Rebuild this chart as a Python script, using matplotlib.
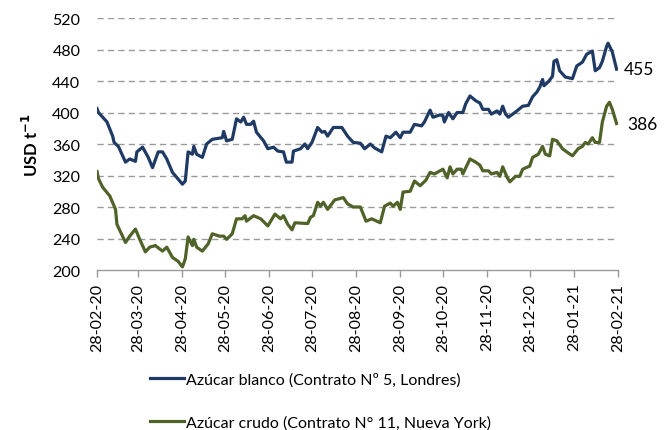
import numpy as np
import matplotlib
matplotlib.use("Agg")
import matplotlib.pyplot as plt
import datetime as dt

# ---- data (days since 28-02-2020, USD/t) ----
start_date = "2020-02-28"
tick_labels = ["28-02-20", "28-03-20", "28-04-20", "28-05-20", "28-06-20", "28-07-20",
               "28-08-20", "28-09-20", "28-10-20", "28-11-20", "28-12-20", "28-01-21", "28-02-21"]

white_days = [0, 1, 7, 11, 12, 15, 20, 23, 27, 28, 32, 36, 39, 43, 46, 49, 53, 60, 62, 64,
              67, 68, 70, 74, 77, 81, 88, 89, 91, 95, 98, 101, 103, 105, 108, 110, 112, 117,
              120, 124, 127, 131, 133, 137, 138, 143, 146, 148, 151, 155, 158, 160, 162, 166,
              172, 176, 180, 185, 188, 192, 195, 200, 203, 206, 210, 213, 215, 220, 223, 228,
              230, 234, 236, 241, 243, 244, 247, 250, 253, 257, 259, 262, 266, 269, 271, 275,
              277, 281, 283, 285, 287, 289, 292, 295, 299, 303, 306, 309, 311, 313, 314, 317,
              320, 321, 323, 325, 329, 334, 337, 341, 344, 348, 350, 353, 355, 358, 359, 362, 365]
white_vals = [405, 400, 388, 370, 362, 357, 337, 341, 338, 350, 356, 343, 330, 350, 350, 341,
              324, 309, 313, 350, 347, 357, 347, 343, 360, 366, 368, 376, 364, 366, 392, 388,
              394, 385, 385, 389, 375, 364, 354, 356, 351, 350, 337, 337, 351, 354, 360, 354,
              362, 381, 375, 376, 370, 381, 381, 370, 362, 361, 354, 360, 355, 350, 370, 368,
              375, 368, 375, 375, 385, 383, 388, 403, 394, 397, 396, 388, 400, 392, 400, 400,
              411, 421, 415, 412, 404, 404, 398, 402, 398, 408, 398, 394, 398, 402, 408, 409,
              420, 426, 432, 442, 434, 439, 446, 465, 467, 453, 445, 443, 459, 464, 474, 478,
              453, 457, 465, 484, 488, 477, 455]

raw_days = [0, 1, 4, 9, 13, 14, 20, 23, 27, 30, 34, 37, 41, 46, 49, 53, 57, 60, 62, 64, 67,
            68, 70, 74, 78, 81, 86, 89, 91, 95, 98, 102, 104, 105, 110, 115, 120, 125, 129,
            131, 134, 137, 139, 148, 150, 152, 155, 157, 159, 162, 167, 173, 176, 180, 185,
            189, 193, 199, 202, 206, 208, 211, 213, 215, 220, 223, 227, 231, 234, 237, 243,
            246, 248, 250, 253, 256, 257, 262, 266, 269, 271, 275, 277, 281, 283, 285, 288,
            290, 294, 297, 299, 304, 306, 310, 313, 315, 318, 320, 323, 327, 330, 334, 338,
            341, 343, 345, 348, 350, 353, 355, 358, 360, 362, 365]
raw_vals = [325, 316, 305, 294, 277, 258, 235, 243, 252, 239, 223, 229, 231, 224, 229, 216,
            211, 204, 214, 242, 231, 239, 229, 224, 233, 246, 243, 243, 239, 246, 265, 265,
            269, 262, 269, 265, 256, 271, 265, 269, 258, 251, 260, 259, 267, 269, 286, 281,
            286, 277, 289, 292, 284, 280, 280, 262, 265, 260, 281, 285, 281, 286, 277, 299,
            300, 313, 307, 314, 324, 322, 328, 317, 331, 322, 328, 328, 322, 341, 337, 333,
            326, 326, 322, 324, 319, 331, 318, 312, 319, 319, 328, 332, 343, 347, 357, 347,
            345, 366, 364, 354, 350, 345, 354, 357, 362, 360, 368, 362, 362, 388, 408, 413,
            404, 386]

white_label = "Azúcar blanco (Contrato Nº 5, Londres)"
raw_label = "Azúcar crudo (Contrato N° 11, Nueva York)"
y_ticks = [200, 240, 280, 320, 360, 400, 440, 480, 520]

# ---- plotting ----
plt.rcParams['font.family'] = ['Lato', 'DejaVu Sans']
BLUE = '#1f3a64'
GREEN = '#4f6228'

d0 = dt.datetime.strptime(start_date, "%Y-%m-%d")
wx = [d0 + dt.timedelta(days=d) for d in white_days]
rx = [d0 + dt.timedelta(days=d) for d in raw_days]
tick_dates = [dt.datetime.strptime(t, "%d-%m-%y") for t in tick_labels]

fig = plt.figure(figsize=(6.70, 4.31), dpi=100)
ax = fig.add_axes([0.1448, 0.3712, 0.7776, 0.5847])

ax.plot(wx, white_vals, color=BLUE, lw=2.3, label=white_label, solid_joinstyle='round')
ax.plot(rx, raw_vals, color=GREEN, lw=2.3, label=raw_label, solid_joinstyle='round')

ax.set_xlim(tick_dates[0], tick_dates[-1])
ax.set_ylim(200, 520)
ax.set_yticks(y_ticks)
ax.set_xticks(tick_dates)
ax.set_xticklabels(tick_labels, rotation=90, fontsize=11.5)
ax.tick_params(axis='y', length=0, pad=12, labelsize=11.5)
ax.tick_params(axis='x', length=5, width=1, color='#9a9a9a', pad=4)

for v in y_ticks[1:]:
    ax.axhline(v, color='#9a9a9a', lw=1, ls=(0, (4.5, 3)), zorder=0)

for s in ['left', 'right', 'top']:
    ax.spines[s].set_visible(False)
ax.spines['bottom'].set_color('#9a9a9a')
ax.spines['bottom'].set_linewidth(1)

ax.set_ylabel("USD t$^{\\mathbf{-1}}$", fontsize=12, fontweight='bold', labelpad=8)

ax.annotate(f"{white_vals[-1]}", xy=(wx[-1], white_vals[-1]), xytext=(5, 0),
            textcoords='offset points', va='center', ha='left', fontsize=12.5)
ax.annotate(f"{raw_vals[-1]}", xy=(rx[-1], raw_vals[-1]), xytext=(8, 0),
            textcoords='offset points', va='center', ha='left', fontsize=12.5)

fig.legend(loc='upper left', bbox_to_anchor=(0.215, 0.148), frameon=False,
           fontsize=11.5, handlelength=2.1, handletextpad=0.1, labelspacing=1.75,
           borderaxespad=0)

fig.savefig("out.png", dpi=100)
